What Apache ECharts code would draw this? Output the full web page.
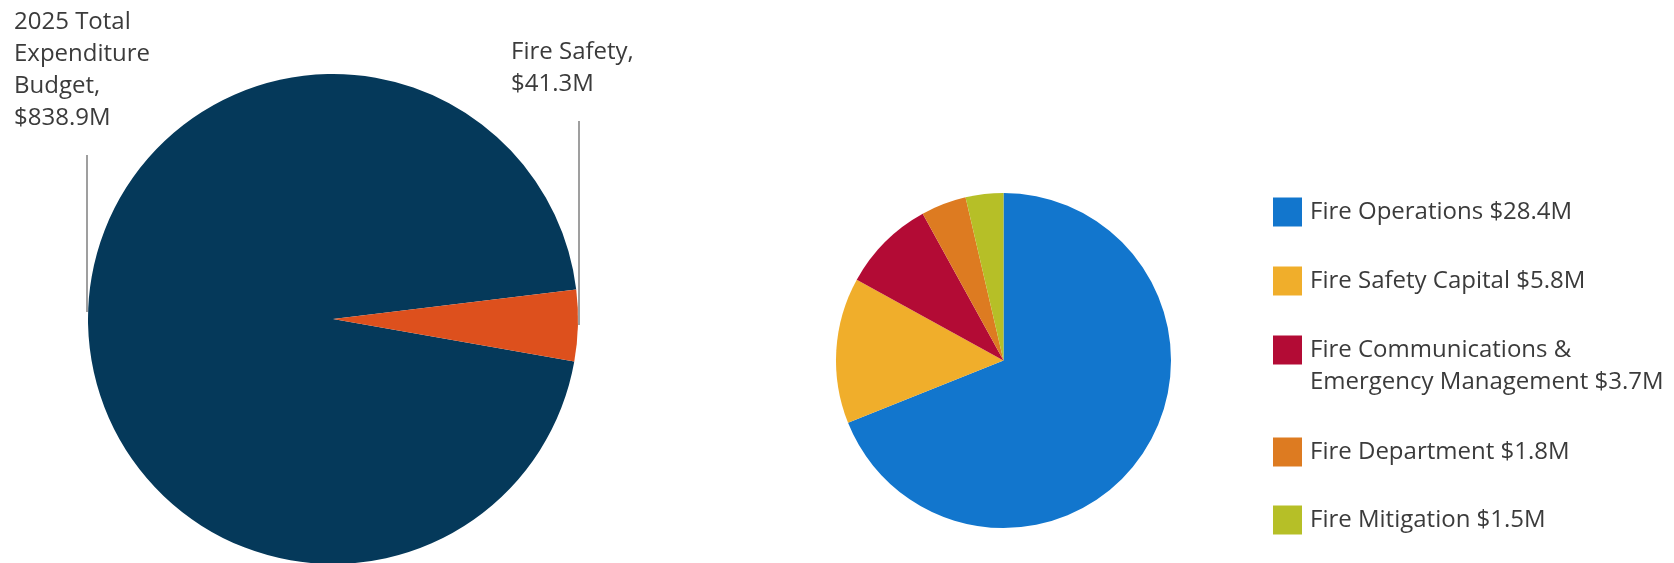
<!DOCTYPE html>
<html>
<head>
<meta charset="utf-8">
<script src="https://cdn.jsdelivr.net/npm/echarts@6/dist/echarts.min.js"></script>
<style>
html,body{margin:0;padding:0;background:#fff;}
#chart{width:1674px;height:563px;}
</style>
</head>
<body>
<div id="chart"></div>
<script>
// ---- Data ----
const leftNames = ['2025 Total Expenditure Budget', 'Fire Safety'];
const leftValues = [838.9, 41.3];
const leftLabels = ['2025 Total\nExpenditure\nBudget,\n$838.9M', 'Fire Safety,\n$41.3M'];
const leftColors = ['#05395A', '#DD501D'];

const rightNames = ['Fire Operations', 'Fire Safety Capital', 'Fire Communications & Emergency Management', 'Fire Department', 'Fire Mitigation'];
const rightValues = [28.4, 5.8, 3.7, 1.8, 1.5];
const rightLegendText = ['Fire Operations $28.4M', 'Fire Safety Capital $5.8M', 'Fire Communications &\nEmergency Management $3.7M', 'Fire Department $1.8M', 'Fire Mitigation $1.5M'];
const rightColors = ['#1276CD', '#F0AE2B', '#B30B35', '#DD7B21', '#B6BF27'];

const FONT = '"Open Sans", "Noto Sans", sans-serif';
const TEXT_COLOR = '#3b3b3b';
const LINE_H = 32;

// legend icon centre rows (layout)
const legendRowCenters = [212, 281, 350, 452, 520];

const chart = echarts.init(document.getElementById('chart'), null, {renderer: 'canvas'});

const legends = rightNames.map((n, i) => {
  const multi = rightLegendText[i].indexOf('\n') >= 0;
  // multi-line item: a leading empty line keeps the first text line level with the square
  const txt = multi ? '\n' + rightLegendText[i] : rightLegendText[i];
  const nLines = txt.split('\n').length;
  return {
    orient: 'vertical',
    left: 1273,
    top: legendRowCenters[i] - nLines * LINE_H / 2,
    padding: 0,
    itemWidth: 29,
    itemHeight: 29,
    icon: 'rect',
    selectedMode: false,
    data: [n],
    formatter: function () { return txt; },
    textStyle: {
      fontFamily: FONT,
      fontSize: 24,
      lineHeight: LINE_H,
      color: TEXT_COLOR,
      padding: [0, 0, 0, 3]
    }
  };
});

const option = {
  backgroundColor: '#ffffff',
  animation: false,
  legend: legends,
  series: [
    {
      type: 'pie',
      center: [333, 319],
      radius: 245,
      startAngle: -10,
      clockwise: true,
      silent: true,
      avoidLabelOverlap: false,
      data: leftNames.map((n, i) => ({ name: n, value: leftValues[i], itemStyle: { color: leftColors[i] } })),
      label: {
        show: true,
        position: 'outside',
        formatter: function (p) { return leftLabels[p.dataIndex]; },
        fontFamily: FONT,
        fontSize: 24,
        lineHeight: LINE_H,
        color: TEXT_COLOR,
        align: 'left'
      },
      labelLine: {
        show: true,
        lineStyle: { color: '#7f7f7f', width: 1.5 }
      },
      labelLayout: function (params) {
        if (params.dataIndex === 0) {
          return { x: 14, y: 6, align: 'left', verticalAlign: 'top',
                   labelLinePoints: [[87, 155], [87, 155], [87, 312]] };
        }
        return { x: 511, y: 36, align: 'left', verticalAlign: 'top',
                 labelLinePoints: [[579, 121], [579, 121], [579, 325]] };
      },
      emphasis: { disabled: true }
    },
    {
      type: 'pie',
      center: [1003.5, 360.5],
      radius: 167.5,
      startAngle: 90,
      clockwise: true,
      silent: true,
      data: rightNames.map((n, i) => ({ name: n, value: rightValues[i], itemStyle: { color: rightColors[i] } })),
      label: { show: false },
      labelLine: { show: false },
      emphasis: { disabled: true }
    }
  ]
};

chart.setOption(option);
</script>
</body>
</html>
